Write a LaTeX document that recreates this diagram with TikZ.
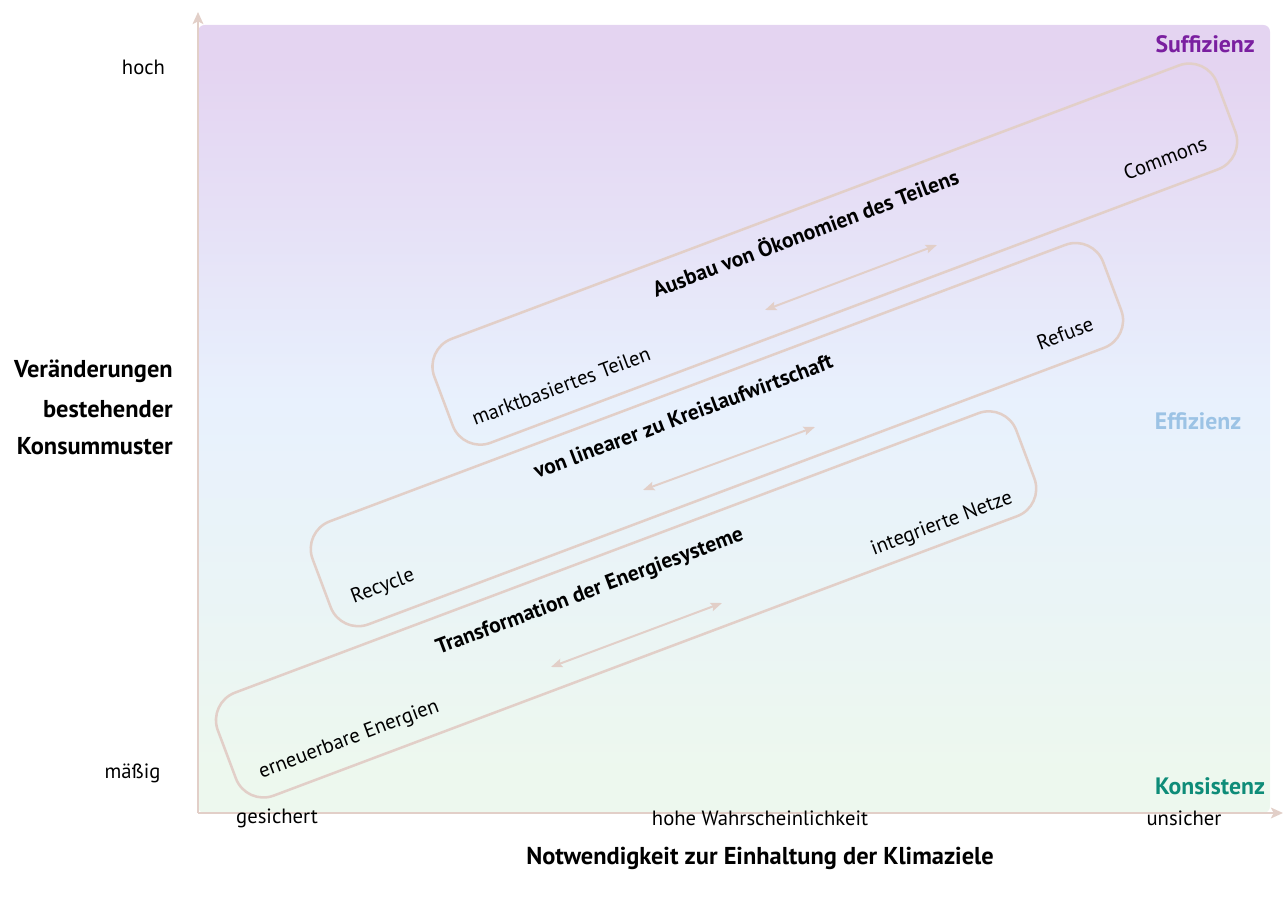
\documentclass[tikz,border=0pt]{standalone}
\usepackage{fontspec}
\setmainfont{PT Sans}
\usetikzlibrary{arrows.meta,calc}
\definecolor{lineC}{RGB}{226,207,200}
\definecolor{topC}{RGB}{228,212,241}
\definecolor{upC}{RGB}{230,224,246}
\definecolor{midC}{RGB}{232,241,253}
\definecolor{lowC}{RGB}{234,244,246}
\definecolor{botC}{RGB}{237,248,238}
\definecolor{suffC}{RGB}{122,31,160}
\definecolor{effC}{RGB}{156,195,229}
\definecolor{konsC}{RGB}{14,140,120}
\pgfdeclareverticalshading{bgshade}{100bp}{color(0bp)=(botC); color(27.5bp)=(botC); color(39bp)=(lowC); color(51bp)=(midC); color(63bp)=(upC); color(72.5bp)=(topC); color(100bp)=(topC)}
\tikzset{
  ovalbox/.style={draw=lineC, line width=1.9pt, rounded corners=22pt, rotate=20.6, inner sep=0pt, outer sep=0pt},
  boxtext/.style={rotate=20.6, font=\fontsize{15.5}{18}\selectfont, inner sep=0pt},
  boxtitle/.style={rotate=20.6, font=\bfseries\fontsize{16.2}{19}\selectfont, inner sep=0pt},
  duo/.style={draw=lineC, line width=1.5pt, {Stealth[length=8.5pt,width=6.5pt,inset=1.5pt]}-{Stealth[length=8.5pt,width=6.5pt,inset=1.5pt]}},
  axisline/.style={draw=lineC, line width=2.2pt, -{Stealth[length=9pt,width=8pt,inset=2pt]}},
  ticktext/.style={font=\fontsize{15.5}{18}\selectfont, inner sep=0pt},
  axtitle/.style={font=\bfseries\fontsize{18.3}{21}\selectfont, inner sep=0pt},
  corner/.style={font=\bfseries\fontsize{17.8}{21}\selectfont, inner sep=0pt}
}
\begin{document}
\begin{tikzpicture}[x=0.75pt,y=0.75pt]
\useasboundingbox (0,0) rectangle (1284,901);
% background
\shade[shading=bgshade, rounded corners=5pt] (198,88) rectangle (1270,876);
% axes
\coordinate (O) at (198,88);
\coordinate (ytip) at (198,889);
\coordinate (xtip) at (1283,88);
\draw[axisline] (O) -- (ytip);
\draw[axisline] (O) -- (xtip);
% boxes
\node[ovalbox, minimum width=627pt, minimum height=83.25pt] (b1) at (834.8,646.9) {};
\node[ovalbox, minimum width=633.4pt, minimum height=82.5pt] (b2) at (716.9,466.4) {};
\node[ovalbox, minimum width=639.75pt, minimum height=82.5pt] (b3) at (626.1,296.6) {};
% box texts
\node[boxtitle] (t1) at (805,669) {Ausbau von Ökonomien des Teilens};
\node[boxtext] (c1) at (1165,743) {Commons};
\node[boxtext] (m1) at (561,515) {marktbasiertes Teilen};
\node[boxtitle] (t2) at (683,485) {von linearer zu Kreislaufwirtschaft};
\node[boxtext] (r2) at (1065,568) {Refuse};
\node[boxtext] (y2) at (383,314) {Recycle};
\node[boxtitle] (t3) at (590,309) {Transformation der Energiesysteme};
\node[boxtext] (n3) at (942,377) {integrierte Netze};
\node[boxtext] (e3) at (349,161) {erneuerbare Energien};
% double arrows
\coordinate (a1l) at (765,591); \coordinate (a1r) at (937,656);
\coordinate (a2l) at (643,411); \coordinate (a2r) at (815,474);
\coordinate (a3l) at (551,234); \coordinate (a3r) at (722,298);
\draw[duo] (a1l) -- (a1r);
\draw[duo] (a2l) -- (a2r);
\draw[duo] (a3l) -- (a3r);
% axis labels
\node[ticktext] (hoch) at (143.5,834) {hoch};
\node[ticktext] (maessig) at (132.5,128) {mäßig};
\node[axtitle, anchor=east] (v1) at (173,530) {Veränderungen};
\node[axtitle, anchor=east] (v2) at (173,492) {bestehender};
\node[axtitle, anchor=east] (v3) at (173,455) {Konsummuster};
\node[ticktext] (ges) at (277,83) {gesichert};
\node[ticktext] (hw) at (760,83) {hohe Wahrscheinlichkeit};
\node[ticktext] (uns) at (1184,83) {unsicher};
\node[axtitle] (nw) at (760,43) {Notwendigkeit zur Einhaltung der Klimaziele};
% corner labels
\node[corner, text=suffC, anchor=east] (suff) at (1255,857) {Suffizienz};
\node[corner, text=effC] (eff) at (1198,480) {Effizienz};
\node[corner, text=konsC] (kons) at (1210,115) {Konsistenz};
\end{tikzpicture}
\end{document}
